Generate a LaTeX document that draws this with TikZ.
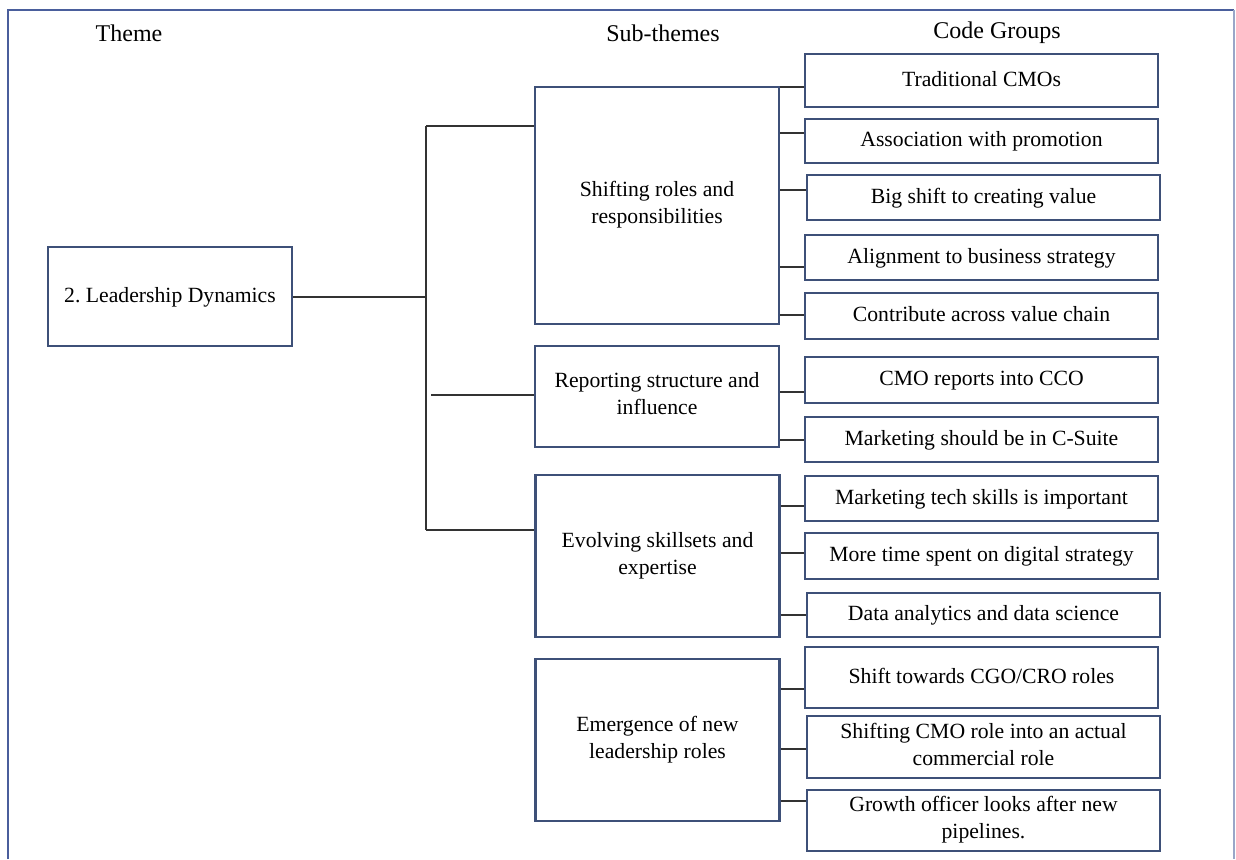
\documentclass[tikz,border=0pt]{standalone}
\usepackage{fontspec}
\setmainfont{Liberation Serif}
\newcommand\boxstrut{\rule[-5.5pt]{0pt}{22pt}}
\begin{document}
\frenchspacing
\begin{tikzpicture}[x=1pt,y=-1pt,
  boxline/.style={draw=boxblue,line width=2.4pt},
  boxtext/.style={inner sep=0pt,align=center,font=\fontsize{21.7}{27}\selectfont,
    execute at begin node=\boxstrut,execute at end node=\boxstrut},
  themebox/.style={boxline,boxtext,minimum width=244pt},
  codebox/.style={boxline,boxtext,minimum width=353pt},
  header/.style={font=\fontsize{24}{28}\selectfont,inner sep=0pt},
  link/.style={draw=linkgray,line width=1.3pt}]
\definecolor{boxblue}{HTML}{3E5078}
\definecolor{framblue}{HTML}{4A5E9C}
\definecolor{framlight}{HTML}{9AA6C8}
\definecolor{linkgray}{HTML}{333333}
\useasboundingbox (0,0) rectangle (1236,859);
% outer frame (open at the bottom)
\draw[framblue,line width=2.4pt] (8,859) -- (8,10) -- (1234,10);
\draw[framlight,line width=1.2pt] (1234,10) -- (1234,859);

% column headings
\node[header] (hTheme) at (129,33) {Theme};
\node[header] (hSub) at (663,33) {Sub-themes};
\node[header] (hCode) at (997,33) {Code Groups};

% theme
\node[themebox,minimum height=99pt] (theme) at (170,296.5) {2. Leadership Dynamics};

% sub-themes
\node[themebox,minimum height=237pt] (sub1) at (657,205.5) {Shifting roles and\\responsibilities};
\node[themebox,minimum height=101pt] (sub2) at (657,396.5) {Reporting structure and\\influence};
\node[themebox,minimum height=162pt] (sub3) at (657.5,556) {Evolving skillsets and\\expertise};
\node[themebox,minimum height=162pt] (sub4) at (657.5,740) {Emergence of new\\leadership roles};

% code groups
\node[codebox,minimum height=53pt] (c1) at (981.5,80.5) {Traditional CMOs};
\node[codebox,minimum height=44pt] (c2) at (981.5,141) {Association with promotion};
\node[codebox,minimum height=45pt] (c3) at (983.5,197.5) {Big shift to creating value};
\node[codebox,minimum height=45pt] (c4) at (981.5,257.5) {Alignment to business strategy};
\node[codebox,minimum height=46pt] (c5) at (981.5,316) {Contribute across value chain};
\node[codebox,minimum height=46pt] (c6) at (981.5,380) {CMO reports into CCO};
\node[codebox,minimum height=45pt] (c7) at (981.5,439.5) {Marketing should be in C-Suite};
\node[codebox,minimum height=45pt] (c8) at (981.5,498.5) {Marketing tech skills is important};
\node[codebox,minimum height=46pt] (c9) at (981.5,556) {More time spent on digital strategy};
\node[codebox,minimum height=44pt] (c10) at (983.5,615) {Data analytics and data science};
\node[codebox,minimum height=61pt] (c11) at (981.5,677.5) {Shift towards CGO/CRO roles};
\node[codebox,minimum height=62pt] (c12) at (983.5,747) {Shifting CMO role into an actual\\commercial role};
\node[codebox,minimum height=61pt] (c13) at (983.5,820.5) {Growth officer looks after new\\pipelines.};

% trunk from the theme to the sub-themes
\coordinate (tTop) at (426,126);
\coordinate (tMid) at (426,297);
\coordinate (tRep) at (431,395);
\coordinate (tBot) at (426,530);
\draw[link] (tTop) -- (tBot);
\draw[link] (theme.east |- tMid) -- (tMid);
\draw[link] (tTop) -- (tTop -| sub1.west);
\draw[link] (tRep) -- (tRep -| sub2.west);
\draw[link] (tBot) -- (tBot -| sub3.west);

% stubs from the sub-themes to their code groups
\foreach \s/\c/\y in {sub1/c1/87, sub1/c2/133, sub1/c3/190, sub1/c4/267, sub1/c5/315,
                      sub2/c6/392, sub2/c7/440,
                      sub3/c8/506, sub3/c9/553, sub3/c10/615,
                      sub4/c11/689, sub4/c12/749, sub4/c13/801}{
  \coordinate (st) at (0,\y);
  \draw[link] (st -| \s.east) -- (st -| \c.west);
}
\end{tikzpicture}
\end{document}
